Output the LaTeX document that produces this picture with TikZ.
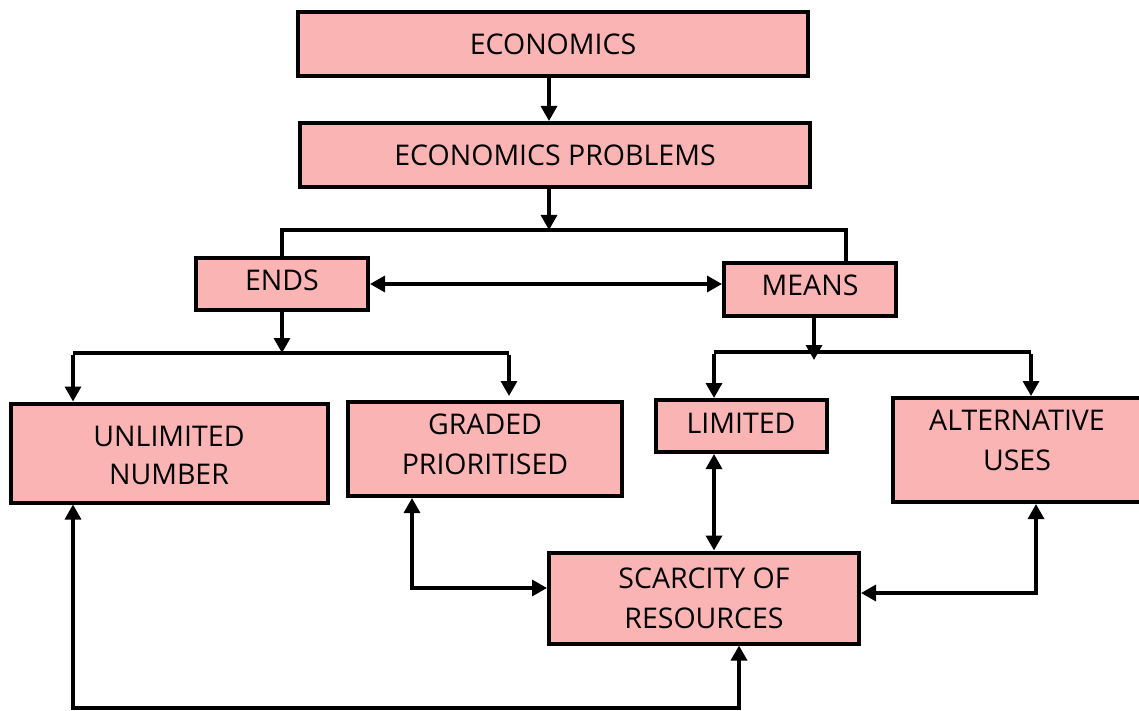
\documentclass[tikz,border=0pt]{standalone}
\usepackage{fontspec}
\setmainfont{Open Sans}
\usetikzlibrary{arrows.meta,calc}
\definecolor{boxpink}{RGB}{250,180,180}
\newcommand{\shiftup}[2]{\raisebox{#1}[\height][\depth]{\begin{tabular}{@{}c@{}}#2\end{tabular}}}
\begin{document}
\begin{tikzpicture}[x=1pt,y=-1pt,
  box/.style={draw=black,line width=4pt,fill=boxpink,inner sep=0pt,align=center,
    font=\fontsize{28.5}{40}\selectfont},
  conn/.style={line width=3.3pt,draw=black},
  tip/.tip={Triangle[length=15pt,width=16pt]},
  arr/.style={conn,-tip},
  dbl/.style={conn,tip-tip}]
\useasboundingbox (0,0) rectangle (1139,711);
\node[box,minimum width=510pt,minimum height=64pt] (econ) at (553,44) {ECONOMICS};
\node[box,minimum width=510pt,minimum height=64pt] (prob) at (555,155) {ECONOMICS PROBLEMS};
\node[box,minimum width=172pt,minimum height=52pt] (ends) at (282,284) {\shiftup{2pt}{ENDS}};
\node[box,minimum width=172pt,minimum height=53pt] (means) at (810,289) {\shiftup{2pt}{MEANS}};
\node[box,minimum width=317pt,minimum height=99pt] (unl) at (169,453) {\shiftup{-4pt}{UNLIMITED\\[-2pt]NUMBER}};
\node[box,minimum width=274pt,minimum height=94pt] (grad) at (485,449) {\shiftup{2.5pt}{GRADED\\PRIORITISED}};
\node[box,minimum width=171pt,minimum height=52pt] (lim) at (741,426) {\shiftup{1pt}{LIMITED}};
\node[box,minimum width=248pt,minimum height=104pt] (alt) at (1017,450) {\shiftup{8pt}{ALTERNATIVE\\USES}};
\node[box,minimum width=310pt,minimum height=91pt] (scar) at (704,598) {SCARCITY OF\\RESOURCES};
% junctions
\coordinate (j1) at (549,230);
\coordinate (jr) at (846,230);
\coordinate (j2) at (282,353);
\coordinate (j2l) at (73,353);
\coordinate (j2r) at (509,353);
\coordinate (j3) at (814,360);
\coordinate (j3l) at (714,352);
\coordinate (j3r) at (1031,352);
\coordinate (gb) at (412,588);
\coordinate (ab) at (1036,593);
\coordinate (ub) at (73,708);
\coordinate (sb) at (739,708);
% connectors
\draw[arr] (econ.south -| j1) -- (prob.north -| j1);
\draw[arr] (prob.south -| j1) -- (j1);
\draw[conn] (ends.north) |- (jr) -- (jr |- means.north);
\draw[dbl] (ends.east) -- (ends.east -| means.west);
\draw[arr] (ends.south) -- (j2);
\draw[conn] (j2l) -- (j2r);
\draw[arr] ([yshift=-1.6pt]j2l) -- (j2l |- unl.north);
\draw[arr] ([yshift=-1.6pt]j2r) -- ($(j2r |- grad.north)+(0,-4)$);
\draw[arr] (means.south -| j3) -- (j3);
\draw[conn] (j3l) -- (j3r);
\draw[arr] ([yshift=-1.6pt]j3l) -- (j3l |- lim.north);
\draw[arr] ([yshift=-1.6pt]j3r) -- (j3r |- alt.north);
\draw[dbl] (lim.south -| j3l) -- (scar.north -| j3l);
\draw[dbl] (grad.south -| gb) |- (gb -| scar.west);
\draw[dbl] (alt.south -| ab) |- (ab -| scar.east);
\draw[dbl] (unl.south -| ub) |- (sb) -- (scar.south -| sb);
\end{tikzpicture}
\end{document}
